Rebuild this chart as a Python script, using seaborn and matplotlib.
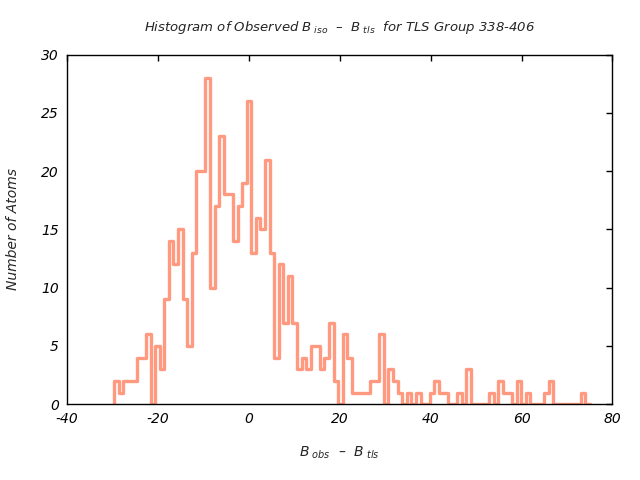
import numpy as np
import pandas as pd
import matplotlib
matplotlib.use("Agg")
import matplotlib.pyplot as plt
import seaborn as sns

# Histogram counts per bin
counts = [2, 1, 2, 2, 2, 4, 4, 6, 0, 5, 3, 9, 14, 12, 15, 9, 5, 13, 20, 20,
          28, 10, 17, 23, 18, 18, 14, 17, 19, 26, 13,
          16, 15, 21, 13, 4, 12, 7, 11, 7, 3, 4, 3, 5, 5, 3, 4, 7, 2, 0,
          6, 4, 1, 1, 1, 1, 2, 2, 6, 0, 3, 2,
          1, 0, 1, 0, 1, 0, 0, 1, 2, 1, 1, 0, 0, 1, 0, 3, 0, 0, 0, 0,
          1, 0, 2, 1, 1, 0, 2, 0, 1, 0, 0, 0, 1, 2, 0, 0, 0, 0, 0, 0, 1, 0]
bin_min = -29.7
bin_max = 75.0
x_ticks = [-40, -20, 0, 20, 40, 60, 80]
y_ticks = [0, 5, 10, 15, 20, 25, 30]

edges = np.linspace(bin_min, bin_max, len(counts) + 1)
centers = (edges[:-1] + edges[1:]) / 2
df = pd.DataFrame({"x": centers, "n": counts})

sns.set_style("white")
plt.rcParams["font.family"] = ["DejaVu Sans"]
plt.rcParams["mathtext.fontset"] = "custom"
plt.rcParams["mathtext.it"] = "DejaVu Sans:italic"
plt.rcParams["mathtext.rm"] = "DejaVu Sans:italic"

fig = plt.figure(figsize=(6.4, 4.8), dpi=100)
ax = fig.add_axes([0.105, 0.158, 0.852, 0.728])

sns.histplot(data=df, x="x", weights="n", bins=[float(e) for e in edges],
             element="step", fill=False, color="#FF9A80", linewidth=2.4, ax=ax)

# close the step outline down to the baseline at both ends
line = ax.lines[-1]
xd = np.asarray(line.get_xdata(), dtype=float)
yd = np.asarray(line.get_ydata(), dtype=float)
line.set_data(np.concatenate([[xd[0]], xd, [xd[-1]]]),
              np.concatenate([[0.0], yd, [0.0]]))

ax.set_xlim(-40, 80)
ax.set_ylim(0, 30)
ax.set_xticks(x_ticks)
ax.set_yticks(y_ticks)
ax.set_xticklabels([str(v) for v in x_ticks], fontstyle="italic", fontsize=10)
ax.set_yticklabels([str(v) for v in y_ticks], fontstyle="italic", fontsize=10)
ax.tick_params(direction="in", top=True, right=True, length=4, width=1,
               colors="black", pad=6)
for s in ax.spines.values():
    s.set_color("black")
    s.set_linewidth(1)

ax.set_xlabel(r"$B_{\ obs}$  –  $B_{\ tls}$", fontsize=10, fontstyle="italic", labelpad=13)
ax.set_ylabel("Number of Atoms", fontsize=10, fontstyle="italic", labelpad=15)
ax.set_title(r"Histogram of Observed $B_{\ iso}$  –  $B_{\ tls}$  for TLS Group 338-406",
             fontsize=9.5, fontstyle="italic", pad=17)

fig.savefig("out.png", dpi=100)
